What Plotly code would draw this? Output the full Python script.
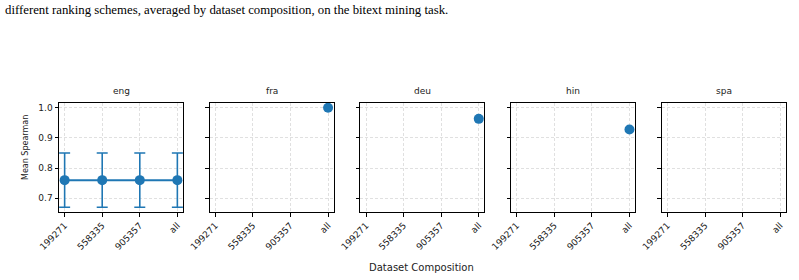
import plotly.graph_objects as go

# ---- data ----
categories = ["199271", "558335", "905357", "all"]
languages = ["eng", "fra", "deu", "hin", "spa"]
eng_mean = [0.76, 0.76, 0.76, 0.76]
eng_err = [0.09, 0.09, 0.09, 0.09]
fra_mean = [None, None, None, 1.0]
deu_mean = [None, None, None, 0.963]
hin_mean = [None, None, None, 0.928]
spa_mean = [None, None, None, None]
y_ticks = [0.7, 0.8, 0.9, 1.0]
caption = "different ranking schemes, averaged by dataset composition, on the bitext mining task."

series = {
    "eng": (eng_mean, eng_err),
    "fra": (fra_mean, None),
    "deu": (deu_mean, None),
    "hin": (hin_mean, None),
    "spa": (spa_mean, None),
}

W, H = 799, 280
BLUE = "#1f77b4"
FONT = "DejaVu Sans"

fig = go.Figure()
xpos = list(range(len(categories)))

left0, step, width = 59.0, 150.7, 124.0
top_px, bot_px = 102.7, 212.3
ydom = [1 - bot_px / H, 1 - top_px / H]

for i, lang in enumerate(languages):
    vals, err = series[lang]
    ax = "" if i == 0 else str(i + 1)
    xs = [x for x, v in zip(xpos, vals) if v is not None]
    ys = [v for v in vals if v is not None]
    errs = None
    if err is not None:
        errs = [e for e, v in zip(err, vals) if v is not None]
    tr = go.Scatter(
        x=xs, y=ys, mode="lines+markers",
        line=dict(color=BLUE, width=2),
        marker=dict(color=BLUE, size=10),
        xaxis="x" + ax, yaxis="y" + ax, showlegend=False,
    )
    if errs is not None:
        tr.error_y = dict(type="data", array=errs, visible=True,
                          color=BLUE, thickness=1.6, width=5.5)
    fig.add_trace(tr)

    x0 = left0 + i * step
    xdom = [x0 / W, (x0 + width) / W]
    common = dict(showline=True, mirror=True, linecolor="black", linewidth=1,
                  ticks="outside", ticklen=3.5, tickwidth=1, tickcolor="black",
                  showgrid=True, gridcolor="#e0e0e0", griddash="3px,2px", gridwidth=0.8,
                  zeroline=False, automargin=False,
                  tickfont=dict(family=FONT, size=9, color="#222"))
    fig.layout["xaxis" + ax] = dict(
        domain=xdom, anchor="y" + ax, range=[-0.15, 3.15],
        tickvals=xpos, ticktext=categories, tickangle=-45, **common)
    fig.layout["yaxis" + ax] = dict(
        domain=ydom, anchor="x" + ax, range=[0.6535, 1.0165],
        tickvals=y_ticks, tickformat=".1f", showticklabels=(i == 0), **common)
    fig.add_annotation(
        x=(x0 + width / 2) / W, y=1 - 91.5 / H, xref="paper", yref="paper",
        text=lang, showarrow=False, xanchor="center", yanchor="middle",
        font=dict(family=FONT, size=9, color="#222"))

fig.add_annotation(x=25 / W, y=1 - 148 / H, xref="paper", yref="paper",
                   text="Mean Spearman", textangle=-90, showarrow=False,
                   xanchor="center", yanchor="middle",
                   font=dict(family=FONT, size=8, color="#222"))
fig.add_annotation(x=422 / W, y=1 - 267.5 / H, xref="paper", yref="paper",
                   text="Dataset Composition", showarrow=False,
                   xanchor="center", yanchor="middle",
                   font=dict(family=FONT, size=10, color="#222"))
fig.add_annotation(x=3 / W, y=1 - 10.5 / H, xref="paper", yref="paper",
                   text=caption, showarrow=False, xanchor="left", yanchor="middle",
                   font=dict(family="Liberation Serif", size=12.8, color="black"))

fig.update_layout(width=W, height=H, margin=dict(l=0, r=0, t=0, b=0),
                  paper_bgcolor="white", plot_bgcolor="white")
fig.write_html("out.html")
